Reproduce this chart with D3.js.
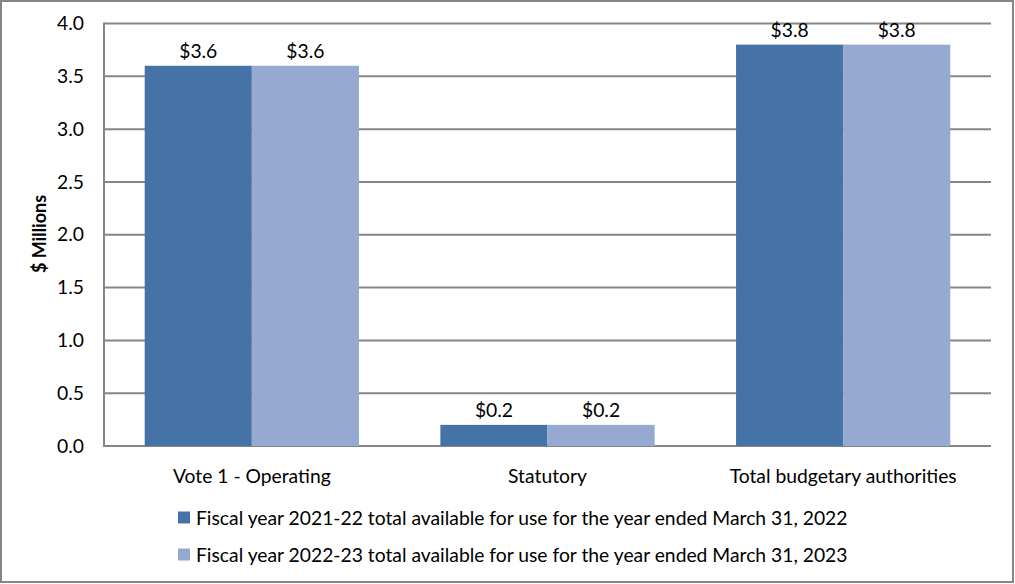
<!DOCTYPE html>
<html><head><meta charset="utf-8">
<script src="https://cdn.jsdelivr.net/npm/d3@7"></script>
<style>body{margin:0;background:#fff}svg{display:block}text{font-family:Lato,"Open Sans",sans-serif;fill:#000}</style>
</head><body>
<svg id="c" width="1015" height="584"></svg>
<script>
const categories = ["Vote 1 - Operating", "Statutory", "Total budgetary authorities"];
const seriesNames = ["Fiscal year 2021-22 total available for use for the year ended March 31, 2022",
                     "Fiscal year 2022-23 total available for use for the year ended March 31, 2023"];
const values2022 = [3.6, 0.2, 3.8];
const values2023 = [3.6, 0.2, 3.8];
const yTicks = [0, 0.5, 1.0, 1.5, 2.0, 2.5, 3.0, 3.5, 4.0];
const colors = ["#4673A7", "#95A9D1"];

(function(){
const FS = 19.3;
const svg = d3.select("#c");
svg.append("rect").attr("x",1).attr("y",1).attr("width",1012).attr("height",581)
  .attr("fill","#fff").attr("stroke","#868686").attr("stroke-width",2);

const pL=104, pR=991, pT=23.5, pB=446;
const y = d3.scaleLinear().domain([0,4]).range([pB, pT]);
const x = d3.scaleBand().domain(categories).range([pL,pR]).paddingInner(0).paddingOuter(0);
const inner = d3.scaleBand().domain([0,1]).range([0, x.bandwidth()]).paddingOuter(0.38).paddingInner(0);

svg.append("g").selectAll("line").data(yTicks).join("line")
  .attr("x1",pL).attr("x2",pR).attr("y1",d=>y(d)).attr("y2",d=>y(d))
  .attr("stroke","#868686").attr("stroke-width",2);
svg.append("line").attr("x1",pL).attr("x2",pL).attr("y1",pT-1).attr("y2",pB+1)
  .attr("stroke","#868686").attr("stroke-width",2);

const yAxis = svg.append("g").attr("transform",`translate(${pL},0)`)
  .call(d3.axisLeft(y).tickValues(yTicks).tickFormat(d3.format(".1f")).tickSize(0).tickPadding(20));
yAxis.select(".domain").remove();
yAxis.selectAll("text").attr("font-size",FS).attr("font-family","Lato").attr("fill","#000");

svg.append("text").attr("transform","translate(46,234) rotate(-90)").attr("text-anchor","middle")
  .attr("font-size",18).attr("font-weight","bold").text("$ Millions");

const series = [values2022, values2023];
series.forEach((vals,si)=>{
  const g = svg.append("g");
  g.selectAll("rect").data(vals).join("rect")
    .attr("x",(d,i)=>x(categories[i])+inner(si))
    .attr("width",inner.bandwidth())
    .attr("y",d=>y(d)).attr("height",d=>pB-y(d))
    .attr("fill",colors[si]);
  g.selectAll("text").data(vals).join("text")
    .attr("x",(d,i)=>x(categories[i])+inner(si)+inner.bandwidth()/2)
    .attr("y",d=>y(d)-8).attr("text-anchor","middle").attr("font-size",FS)
    .text(d=>"$"+d3.format(".1f")(d));
});

const xAxis = svg.append("g").attr("transform",`translate(0,${pB})`)
  .call(d3.axisBottom(x).tickSize(0).tickPadding(23));
xAxis.select(".domain").remove();
xAxis.selectAll("text").attr("font-size",FS).attr("font-family","Lato").attr("fill","#000");

const lg = svg.append("g");
seriesNames.forEach((n,i)=>{
  const yy = 517.5 + i*37;
  lg.append("rect").attr("x",178).attr("y",yy-6).attr("width",12).attr("height",12).attr("fill",colors[i]);
  lg.append("text").attr("x",196).attr("y",yy+7).attr("font-size",FS).text(n);
});
})();
</script>
</body></html>
